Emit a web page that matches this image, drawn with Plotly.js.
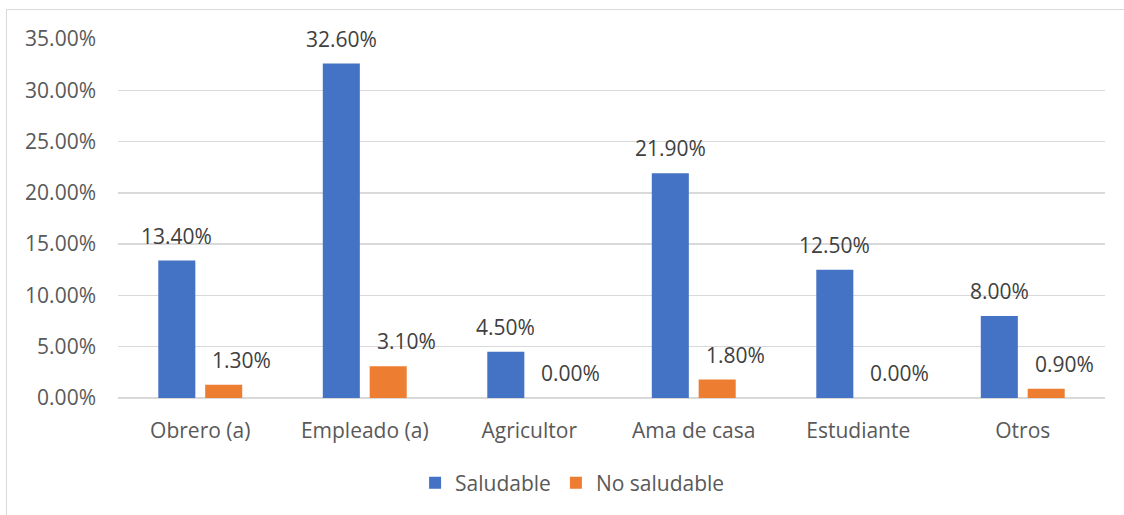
<!DOCTYPE html>
<html>
<head>
<meta charset="utf-8">
<script src="https://cdn.plot.ly/plotly-3.0.1.min.js"></script>
<style>
  html, body { margin: 0; padding: 0; background: #ffffff; overflow: hidden; }
  #frame { position: absolute; left: 6px; top: 9px; width: 1300px; height: 700px;
           border: 1.5px solid #D9D9D9; box-sizing: border-box; }
  #chart { position: absolute; left: 0; top: 0; width: 1124px; height: 515px; }
</style>
</head>
<body>
<div id="frame"></div>
<div id="chart"></div>
<script>
// Ocupación por estado nutricional (%)
const categories = ['Obrero (a)', 'Empleado (a)', 'Agricultor', 'Ama de casa', 'Estudiante', 'Otros'];
const saludable = [13.4, 32.6, 4.5, 21.9, 12.5, 8.0];
const noSaludable = [1.3, 3.1, 0.0, 1.8, 0.0, 0.9];
const seriesNames = ['Saludable', 'No saludable'];
const yTicks = [0, 5, 10, 15, 20, 25, 30, 35];

const BLUE = '#4472C4';
const ORANGE = '#ED7D31';
const TEXT = '#595959';
const FONT = 'Open Sans, sans-serif';
const FS = 21;

const traces = [
  { type: 'bar', name: seriesNames[0], x: categories, y: saludable,
    marker: { color: BLUE }, hoverinfo: 'skip' },
  { type: 'bar', name: seriesNames[1], x: categories, y: noSaludable,
    marker: { color: ORANGE }, hoverinfo: 'skip' }
];

// value labels above each bar
const fmt = v => v.toFixed(2) + '%';
const annotations = [];
categories.forEach((c, i) => {
  annotations.push({ x: c, y: saludable[i], xref: 'x', yref: 'y', text: fmt(saludable[i]),
    showarrow: false, xshift: -23.5, yshift: 25, yanchor: 'middle',
    font: { family: FONT, size: FS, color: '#404040' } });
  annotations.push({ x: c, y: noSaludable[i], xref: 'x', yref: 'y', text: fmt(noSaludable[i]),
    showarrow: false, xshift: 23.5 + 18, yshift: 25, yanchor: 'middle',
    font: { family: FONT, size: FS, color: '#404040' } });
});

const layout = {
  width: 1124, height: 515,
  margin: { l: 118, r: 19, t: 39, b: 117, pad: 0 },
  paper_bgcolor: 'rgba(0,0,0,0)',
  plot_bgcolor: 'rgba(0,0,0,0)',
  font: { family: FONT, size: FS, color: TEXT },
  barmode: 'group',
  bargap: 0.43,
  bargroupgap: 0.21,
  showlegend: true,
  legend: {
    orientation: 'h', x: 0.301, xanchor: 'left', y: -0.237, yanchor: 'middle',
    font: { family: FONT, size: FS, color: TEXT }, itemwidth: 30, traceorder: 'normal'
  },
  xaxis: {
    showgrid: false, showline: false, zeroline: false, ticks: '',
    ticklabelstandoff: 18, tickfont: { family: FONT, size: FS, color: TEXT }
  },
  yaxis: {
    range: [0, 35], tickvals: yTicks, ticktext: yTicks.map(fmt),
    showgrid: true, gridcolor: '#D9D9D9', gridwidth: 1.5,
    zeroline: true, zerolinecolor: '#D9D9D9', zerolinewidth: 1.5,
    showline: false, ticks: '', ticklabelstandoff: 21,
    tickfont: { family: FONT, size: FS, color: TEXT }
  },
  annotations: annotations
};

Plotly.newPlot('chart', traces, layout, { staticPlot: true, displayModeBar: false });
</script>
</body>
</html>
